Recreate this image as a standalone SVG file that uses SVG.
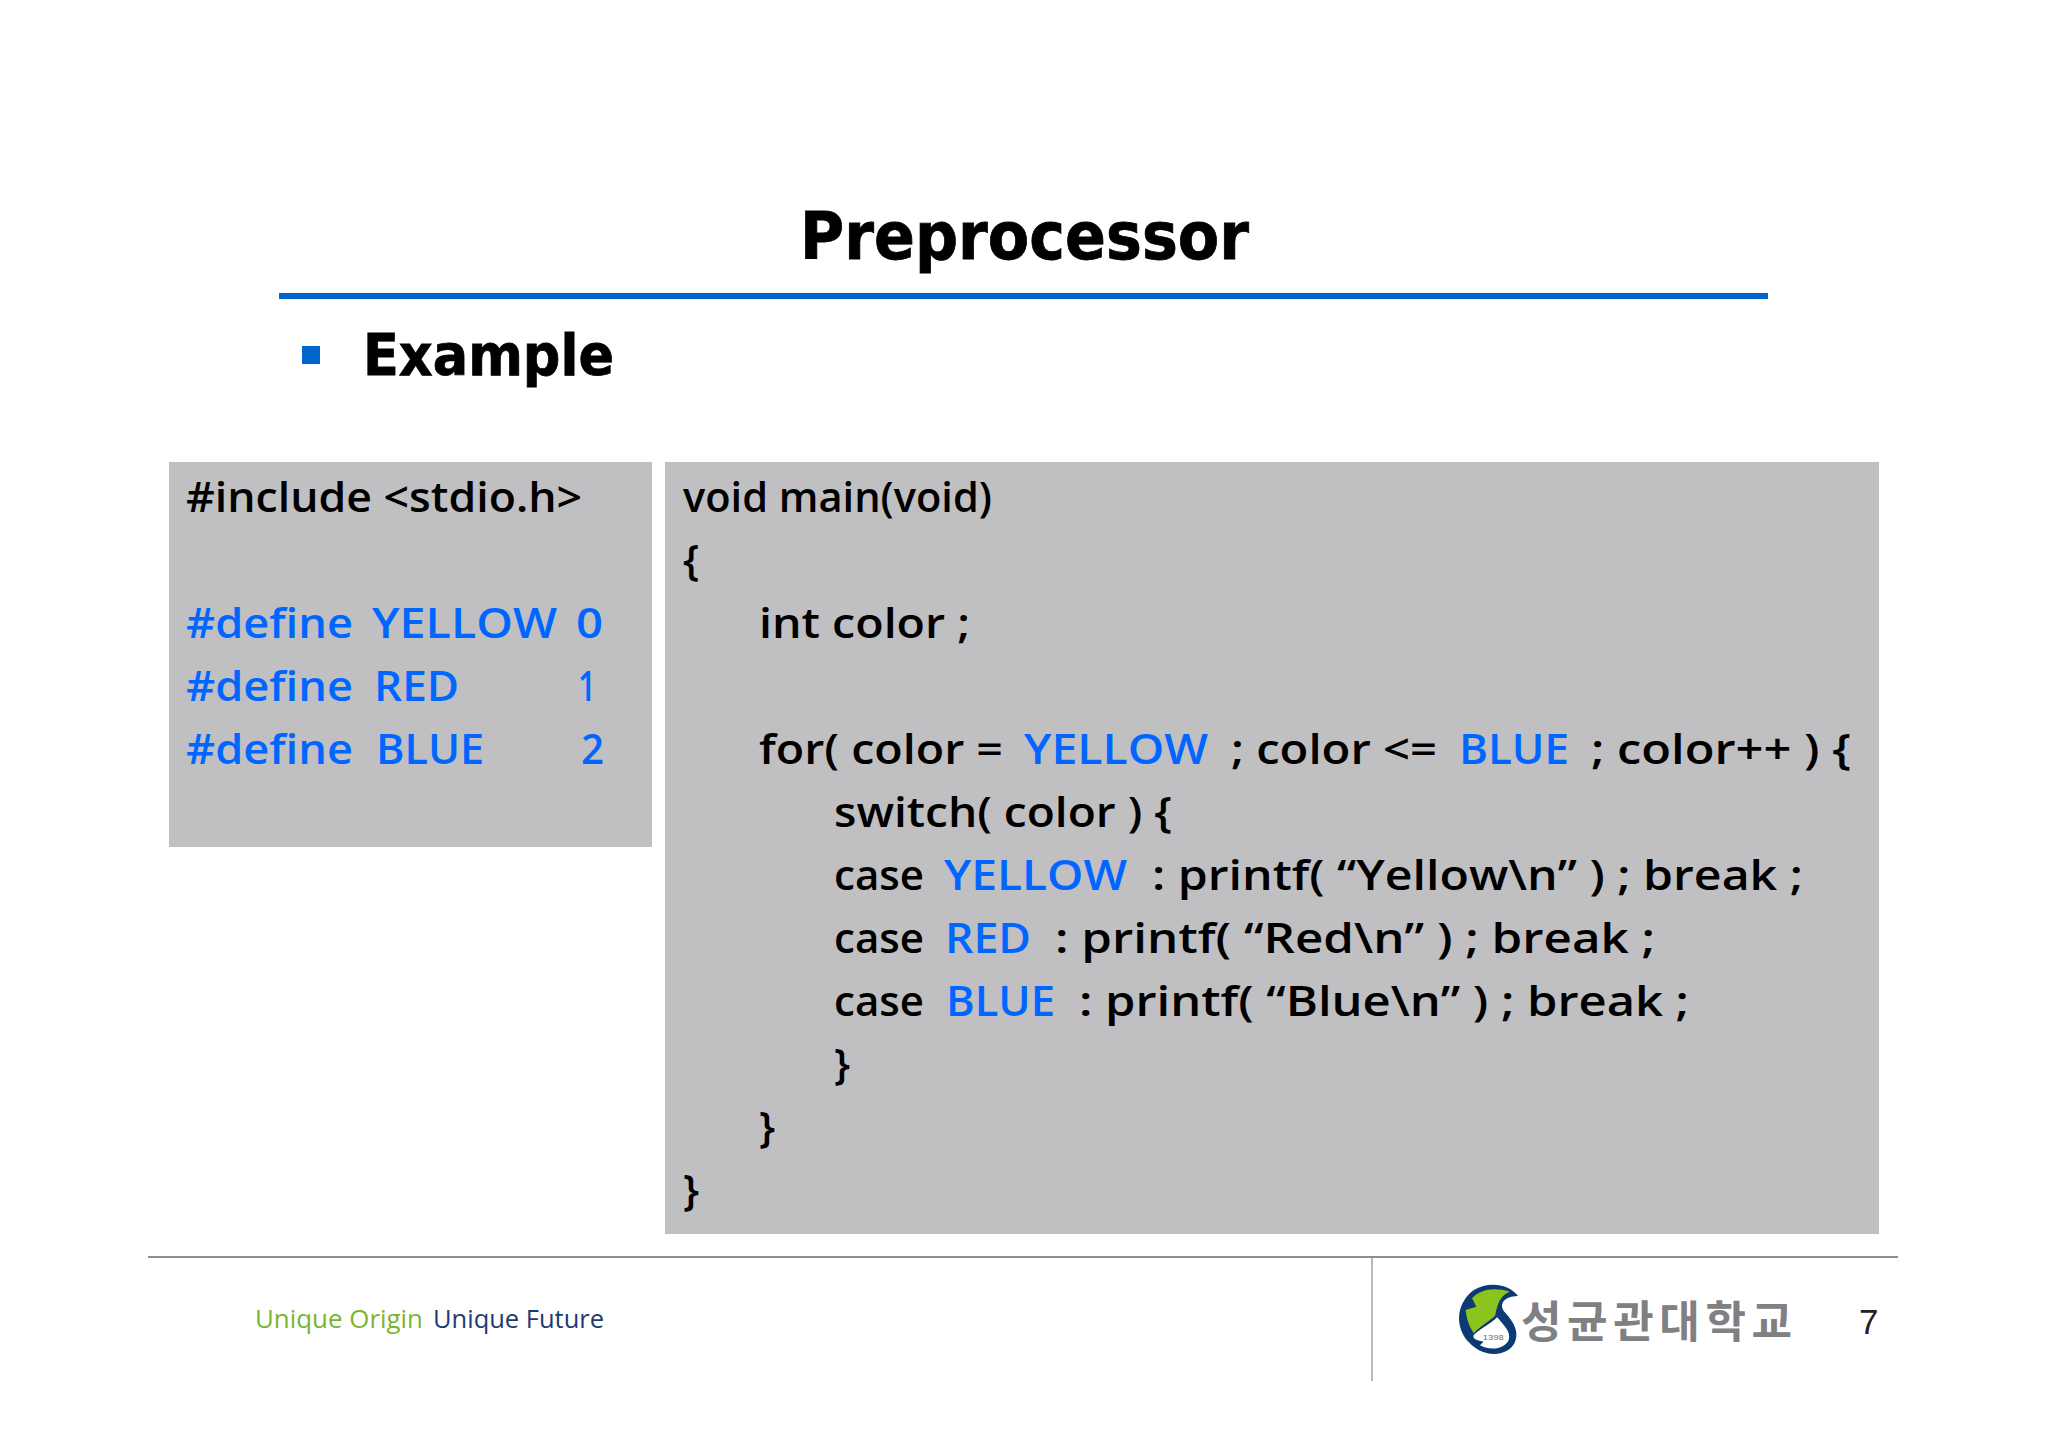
<svg xmlns="http://www.w3.org/2000/svg" width="2048" height="1447" viewBox="0 0 2048 1447">
<style>
.c{font-family:"Open Sans","Noto Sans",sans-serif;font-weight:600;font-size:42px;fill:#000}
.b{fill:#0066ff}
.h{font-family:"DejaVu Sans",sans-serif;font-weight:700;fill:#000;stroke:#000;stroke-width:.8px}
.panel{fill:#c0bfc1}
</style>
<rect width="2048" height="1447" fill="#fff"/>
<g id="header">
<text class="h" x="800" y="259" font-size="65" textLength="449" lengthAdjust="spacingAndGlyphs">Preprocessor</text>
<rect x="279" y="293" width="1489" height="6" fill="#0066cc"/>
<rect x="302" y="346" width="18" height="18" fill="#0066cc"/>
<text class="h" x="363" y="375" font-size="57" textLength="251" lengthAdjust="spacingAndGlyphs">Example</text>
</g>
<g id="defines">
<rect class="panel" x="169" y="462" width="483" height="385"/>
<text class="c" x="186" y="512" textLength="396" lengthAdjust="spacingAndGlyphs">#include &lt;stdio.h&gt;</text>
<text class="c b" x="186" y="638" textLength="167" lengthAdjust="spacingAndGlyphs">#define</text>
<text class="c b" x="372" y="638" textLength="185" lengthAdjust="spacingAndGlyphs">YELLOW</text>
<text class="c b" x="576" y="638" textLength="27" lengthAdjust="spacingAndGlyphs">0</text>
<text class="c b" x="186" y="701" textLength="167" lengthAdjust="spacingAndGlyphs">#define</text>
<text class="c b" x="374" y="701" textLength="85" lengthAdjust="spacingAndGlyphs">RED</text>
<text class="c b" x="578" y="701" textLength="18" lengthAdjust="spacingAndGlyphs">1</text>
<text class="c b" x="186" y="764" textLength="167" lengthAdjust="spacingAndGlyphs">#define</text>
<text class="c b" x="376" y="764" textLength="108" lengthAdjust="spacingAndGlyphs">BLUE</text>
<text class="c b" x="581" y="764" textLength="23" lengthAdjust="spacingAndGlyphs">2</text>
</g>
<g id="main">
<rect class="panel" x="665" y="462" width="1214" height="772"/>
<text class="c" x="683" y="512" textLength="309" lengthAdjust="spacingAndGlyphs">void main(void)</text>
<text class="c" x="683" y="575">{</text>
<text class="c" x="759" y="638" textLength="211" lengthAdjust="spacingAndGlyphs">int color ;</text>
<text class="c" x="759" y="764" textLength="244" lengthAdjust="spacingAndGlyphs">for( color =</text>
<text class="c b" x="1024" y="764" textLength="184" lengthAdjust="spacingAndGlyphs">YELLOW</text>
<text class="c" x="1231" y="764" textLength="206" lengthAdjust="spacingAndGlyphs">; color &lt;=</text>
<text class="c b" x="1459" y="764" textLength="110" lengthAdjust="spacingAndGlyphs">BLUE</text>
<text class="c" x="1591" y="764" textLength="260" lengthAdjust="spacingAndGlyphs">; color++ ) {</text>
<text class="c" x="834" y="827" textLength="338" lengthAdjust="spacingAndGlyphs">switch( color ) {</text>
<text class="c" x="834" y="890" textLength="90" lengthAdjust="spacingAndGlyphs">case</text>
<text class="c b" x="944" y="890" textLength="183" lengthAdjust="spacingAndGlyphs">YELLOW</text>
<text class="c" x="1152" y="890" textLength="651" lengthAdjust="spacingAndGlyphs">: printf( “Yellow\n” ) ; break ;</text>
<text class="c" x="834" y="953" textLength="90" lengthAdjust="spacingAndGlyphs">case</text>
<text class="c b" x="945" y="953" textLength="86" lengthAdjust="spacingAndGlyphs">RED</text>
<text class="c" x="1055" y="953" textLength="600" lengthAdjust="spacingAndGlyphs">: printf( “Red\n” ) ; break ;</text>
<text class="c" x="834" y="1016" textLength="90" lengthAdjust="spacingAndGlyphs">case</text>
<text class="c b" x="946" y="1016" textLength="109" lengthAdjust="spacingAndGlyphs">BLUE</text>
<text class="c" x="1079" y="1016" textLength="610" lengthAdjust="spacingAndGlyphs">: printf( “Blue\n” ) ; break ;</text>
<text class="c" x="834" y="1079">}</text>
<text class="c" x="759" y="1142">}</text>
<text class="c" x="683" y="1205">}</text>
</g>
<g id="footer">
<rect x="148" y="1256" width="1750" height="2" fill="#8f8f8f"/>
<rect x="1371" y="1258" width="2" height="123" fill="#b9b9bc"/>
<text x="255" y="1328" font-family="Open Sans, sans-serif" font-size="25" fill="#7ab52f" textLength="168" lengthAdjust="spacingAndGlyphs">Unique Origin</text>
<text x="433" y="1328" font-family="Open Sans, sans-serif" font-size="25" fill="#1f3a70" textLength="171" lengthAdjust="spacingAndGlyphs">Unique Future</text>
<g id="logo" transform="translate(1350 1240) scale(.359 .3333)">
<path fill="#0b3a75" d="M468,168C440,130 385,125 345,150C300,185 290,250 325,300C335,312 345,322 358,330C395,350 440,345 458,310C475,270 450,240 430,215C415,195 425,170 468,168Z"/>
<path fill="#fff" d="M345,284C370,262 395,248 410,232C425,252 450,275 442,300C432,325 395,335 362,316L372,305C350,300 340,295 345,284Z"/>
<path fill="#8cc31f" d="M445,155C400,140 360,150 340,175L352,200L322,210C325,240 335,265 345,280C365,255 395,240 405,225C410,190 420,165 445,155Z"/>
<text x="370" y="300" font-family="Liberation Sans, sans-serif" font-size="24" fill="#6d6e71" textLength="58" lengthAdjust="spacingAndGlyphs">1398</text>
</g>
<text x="1521" y="1338" font-family="Noto Sans CJK KR, sans-serif" font-weight="700" font-size="44" fill="#808083" textLength="271" lengthAdjust="spacing">성균관대학교</text>
<text x="1859" y="1334" font-family="Liberation Sans, sans-serif" font-size="35" fill="#222">7</text>
</g>
</svg>
